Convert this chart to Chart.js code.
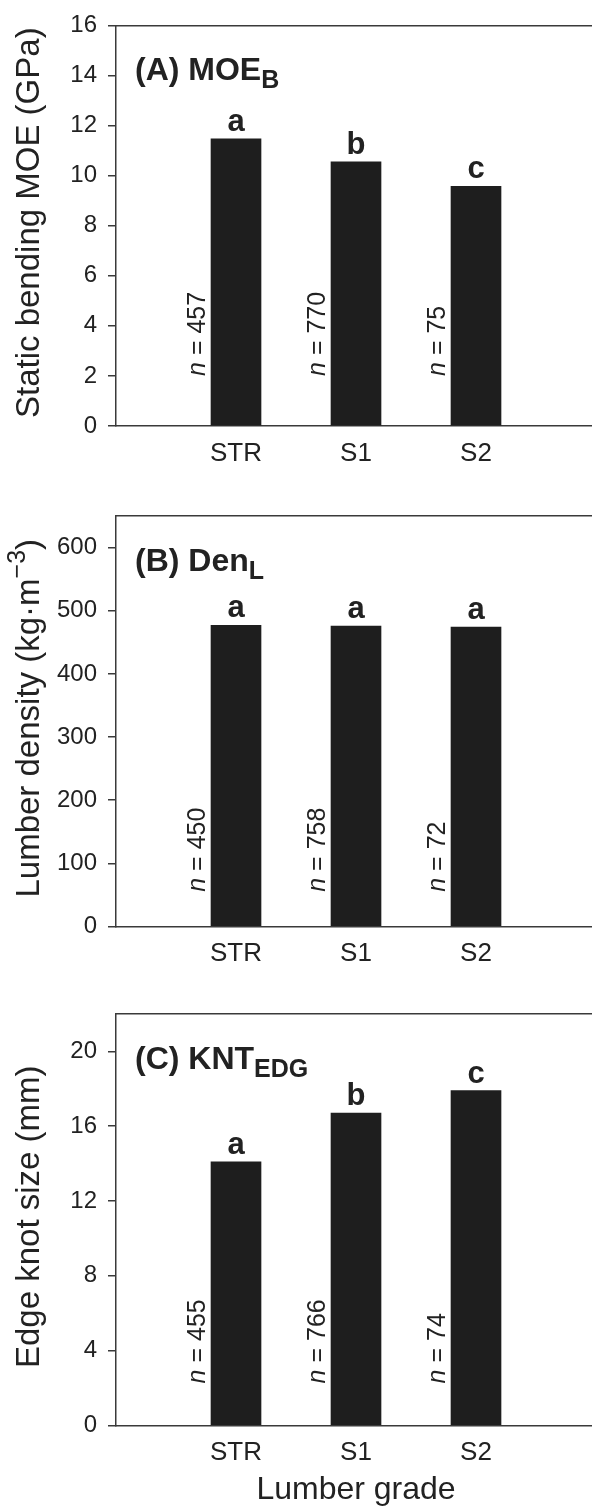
<!DOCTYPE html>
<html><head><meta charset="utf-8">
<script src="https://cdn.jsdelivr.net/npm/chart.js@4"></script>
<style>
html,body{margin:0;padding:0;background:#fff;overflow:hidden;}
#wrap{position:relative;width:600px;height:1506px;overflow:hidden;background:#fff;}
.pane{position:absolute;left:0;width:600px;}
canvas{display:block;}
</style></head><body>
<div id="wrap">
<div class="pane" style="top:0;height:490px"><canvas id="cA" width="600" height="490" style="width:600px;height:490px"></canvas></div>
<div class="pane" style="top:490px;height:490px"><canvas id="cB" width="600" height="490" style="width:600px;height:490px"></canvas></div>
<div class="pane" style="top:980px;height:526px"><canvas id="cC" width="600" height="526" style="width:600px;height:526px"></canvas></div>
</div>
<script>
// ---- data ----
const categories = ['STR', 'S1', 'S2'];

const moeValues  = [11.47, 10.55, 9.57];
const moeLetters = ['a', 'b', 'c'];
const moeN       = [457, 770, 75];
const moeTicks   = [0, 2, 4, 6, 8, 10, 12, 14, 16];

const denValues  = [477, 475.5, 474];
const denLetters = ['a', 'a', 'a'];
const denN       = [450, 758, 72];
const denTicks   = [0, 100, 200, 300, 400, 500, 600];

const kntValues  = [14.1, 16.7, 17.9];
const kntLetters = ['a', 'b', 'c'];
const kntN       = [455, 766, 74];
const kntTicks   = [0, 4, 8, 12, 16, 20];

const xTitleText = 'Lumber grade';

// ---- styling ----
const FONT = "'Liberation Sans', Arial, Helvetica, sans-serif";
const TEXT = '#222222';
const AXIS = '#3a3a3a';
const BAR  = '#1e1e1e';

function drawRich(ctx, segs, x, y) {
  let cx = x;
  segs.forEach(s => {
    ctx.font = s.font;
    ctx.fillText(s.t, cx, y + (s.dy || 0));
    cx += ctx.measureText(s.t).width;
  });
}
function richWidth(ctx, segs) {
  let w = 0;
  segs.forEach(s => { ctx.font = s.font; w += ctx.measureText(s.t).width; });
  return w;
}

const annot = {
  id: 'annot',
  afterDatasetsDraw(chart, args, o) {
    const ctx = chart.ctx, ca = chart.chartArea, y = chart.scales.y;
    const meta = chart.getDatasetMeta(0);
    ctx.save();
    ctx.fillStyle = TEXT;
    // significance letters
    ctx.textAlign = 'center';
    ctx.textBaseline = 'alphabetic';
    ctx.font = `bold 31px ${FONT}`;
    o.letters.forEach((L, i) => {
      const el = meta.data[i + 1];
      ctx.fillText(L, el.x, el.y - 8);
    });
    // n labels
    o.ns.forEach((n, i) => {
      const el = meta.data[i + 1];
      ctx.save();
      ctx.translate(el.x - 31, y.getPixelForValue(o.nAt));
      ctx.rotate(-Math.PI / 2);
      ctx.textAlign = 'left';
      drawRich(ctx, [
        { t: 'n', font: `italic 25px ${FONT}` },
        { t: ' = ' + n, font: `25px ${FONT}` }
      ], 0, 0);
      ctx.restore();
    });
    // panel title
    ctx.textAlign = 'left';
    drawRich(ctx, o.title, ca.left + 19, ca.top + 55);
    // y axis title
    ctx.save();
    ctx.translate(30, (ca.top + ca.bottom) / 2 - 3);
    ctx.rotate(-Math.PI / 2);
    ctx.textBaseline = 'middle';
    const w = richWidth(ctx, o.yTitle);
    drawRich(ctx, o.yTitle, -w / 2, 0);
    ctx.restore();
    ctx.restore();
  }
};

function noPad(s) { s.paddingLeft = 0; s.paddingRight = 0; }

function makeChart(id, values, letters, ns, ticks, yMax, nAt, title, yTitle, padTop, axisH, withXTitle) {
  return new Chart(document.getElementById(id), {
    type: 'bar',
    data: {
      labels: ['', ...categories, ''],
      datasets: [{
        data: [null, ...values, null],
        backgroundColor: BAR,
        borderWidth: 0,
        barThickness: 50
      }]
    },
    options: {
      responsive: false,
      devicePixelRatio: 1,
      animation: false,
      events: [],
      layout: { padding: { top: padTop, right: 4, left: 0, bottom: 0 } },
      plugins: {
        legend: { display: false },
        tooltip: { enabled: false },
        annot: { letters, ns, nAt, title, yTitle }
      },
      scales: {
        x: {
          type: 'category',
          offset: false,
          grid: { display: false, drawTicks: false },
          border: { display: true, color: AXIS, width: 1.5 },
          ticks: { autoSkip: false, maxRotation: 0, padding: 12, color: TEXT, font: { family: FONT, size: 26 } },
          title: withXTitle ? { display: true, text: xTitleText, color: TEXT, font: { family: FONT, size: 32, lineHeight: 1 }, padding: 0 } : { display: false },
          afterFit: s => { s.height = axisH; noPad(s); }
        },
        x2: {
          type: 'linear', position: 'top', min: 0, max: 1,
          grid: { display: false, drawTicks: false },
          ticks: { display: false },
          border: { display: true, color: AXIS, width: 1.5 },
          afterFit: s => { s.height = 0; noPad(s); }
        },
        y: {
          type: 'linear', min: 0, max: yMax,
          afterBuildTicks: s => { s.ticks = ticks.map(v => ({ value: v })); },
          grid: { display: true, drawOnChartArea: false, drawTicks: true, tickLength: 8, color: AXIS, lineWidth: 1.5 },
          border: { display: true, color: AXIS, width: 1.5 },
          ticks: { padding: 11, color: TEXT, font: { family: FONT, size: 24 } },
          afterFit: s => { s.width = 116; }
        }
      }
    },
    plugins: [annot]
  });
}

const B32 = `bold 32px ${FONT}`, B25 = `bold 25px ${FONT}`, R33 = `33px ${FONT}`, R25 = `25px ${FONT}`;

makeChart('cA', moeValues, moeLetters, moeN, moeTicks, 16, 2.0,
  [{ t: '(A) MOE', font: B32 }, { t: 'B', font: B25, dy: 8 }],
  [{ t: 'Static bending MOE (GPa)', font: R33 }],
  15, 64, false);

makeChart('cB', denValues, denLetters, denN, denTicks, 650, 55,
  [{ t: '(B) Den', font: B32 }, { t: 'L', font: B25, dy: 8 }],
  [{ t: 'Lumber density (kg\u00B7m', font: R33 }, { t: '\u22123', font: R25, dy: -12 }, { t: ')', font: R33 }],
  26, 53.5, false);

makeChart('cC', kntValues, kntLetters, kntN, kntTicks, 22, 2.25,
  [{ t: '(C) KNT', font: B32 }, { t: 'EDG', font: B25, dy: 8 }],
  [{ t: 'Edge knot size (mm)', font: R33 }],
  34, 80.5, true);
</script>
</body></html>
